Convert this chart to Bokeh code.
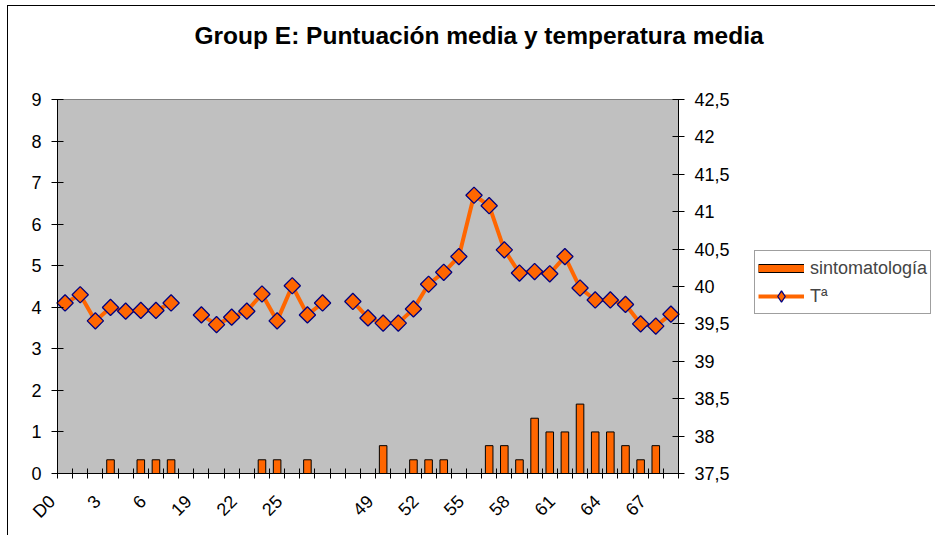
import math
import numpy as np
from bokeh.plotting import figure
from bokeh.models import Range1d, LinearAxis, FixedTicker, Legend, LegendItem, Title, ColumnDataSource
from bokeh.embed import file_html
from bokeh.resources import INLINE

# ---------------- data ----------------
categories = ["D0", "1", "2", "3", "4", "5", "6", "7", "",
              "19", "20", "21", "22", "23", "24", "25", "26", "27", "",
              "47", "48", "49", "50", "51", "52", "53", "54", "55", "56", "57",
              "58", "59", "60", "61", "62", "63", "64", "65", "66", "67", "68"]

sintomatologia = [0, 0, 0, 0.33, 0, 0.33, 0.33, 0.33, 0,
                  0, 0, 0, 0, 0.33, 0.33, 0, 0.33, 0, 0,
                  0, 0, 0.67, 0, 0.33, 0.33, 0.33, 0, 0, 0.67, 0.67,
                  0.33, 1.33, 1, 1, 1.67, 1, 1, 0.67, 0.33, 0.67, 0]

temperatura = [39.78, 39.89, 39.54, 39.72, 39.67, 39.68, 39.68, 39.78, None,
               39.62, 39.49, 39.59, 39.67, 39.90, 39.54, 40.01, 39.62, 39.78, None,
               39.80, 39.58, 39.51, 39.51, 39.70, 40.03, 40.19, 40.40, 41.22, 41.08, 40.49,
               40.18, 40.20, 40.17, 40.40, 39.98, 39.82, 39.82, 39.76, 39.50, 39.47, 39.63]

left_ticks = [0, 1, 2, 3, 4, 5, 6, 7, 8, 9]
right_ticks = [37.5, 38, 38.5, 39, 39.5, 40, 40.5, 41, 41.5, 42, 42.5]
right_tick_labels = ["37,5", "38", "38,5", "39", "39,5", "40", "40,5", "41", "41,5", "42", "42,5"]
label_every = 3

title_text = "Group E: Puntuación media y temperatura media"
series_names = ["sintomatología", "Tª"]

# ---------------- layout constants (pixels on the canvas) ----------------
FONT = "Liberation Sans"
ORANGE = "#FF6600"
NAVY = "#000080"
CANVAS_W, CANVAS_H = 928, 530
AREA_L, AREA_R = 49, 670          # grey plotting area, horizontal
AREA_T, AREA_B = 93, 467          # grey plotting area, vertical
FRAME_T = 80                      # frame covers everything below the title
LABEL_SHIFT = 0.85                # rotated labels sit left of the category centre
NAN1 = [np.nan]                   # legend-swatch proxies carry no visible data

n = len(categories)
xs = list(range(n))
x_lo, x_hi = -0.5, n - 0.5
y_lo, y_hi = left_ticks[0], left_ticks[-1]
t_lo, t_hi = right_ticks[0], right_ticks[-1]

px_x = (AREA_R - AREA_L) / n
px_y = (AREA_B - AREA_T) / (y_hi - y_lo)
px_t = (AREA_B - AREA_T) / (t_hi - t_lo)

temp_arr = np.array([np.nan if v is None else v for v in temperatura], dtype=float)
src = ColumnDataSource(data=dict(x=xs, score=sintomatologia, temp=temp_arr))

# the frame spans the whole canvas below the title so nothing outside the grey area is clipped
x_range = Range1d(x_lo - AREA_L / px_x, x_lo + (CANVAS_W - AREA_L) / px_x)
y_range = Range1d(y_lo - (CANVAS_H - AREA_B) / px_y, y_hi + (AREA_T - FRAME_T) / px_y)
t_range = Range1d(t_lo - (CANVAS_H - AREA_B) / px_t, t_hi + (AREA_T - FRAME_T) / px_t)

p = figure(width=CANVAS_W, height=CANVAS_H, x_range=x_range, y_range=y_range,
           output_backend="svg", toolbar_location=None,
           min_border_left=0, min_border_right=0,
           min_border_top=FRAME_T, min_border_bottom=0,
           background_fill_color="white", border_fill_color="white",
           outline_line_color=None)
p.styles = {"margin-left": "7px", "margin-top": "5px",
            "border-left": "1px solid black", "border-top": "1px solid black"}
p.xgrid.visible = False
p.ygrid.visible = False
p.extra_y_ranges = {"temp": t_range}

# grey plotting area
p.quad(left=[x_lo], right=[x_hi], bottom=[y_lo], top=[y_hi],
       fill_color="#C0C0C0", line_color="#808080", line_width=1)

bars = p.vbar(x="x", top="score", bottom=0, width=0.5, source=src,
              fill_color=ORANGE, line_color="black", line_width=1)
line_r = p.line("x", "temp", source=src, y_range_name="temp",
                line_color=ORANGE, line_width=4)
mark_r = p.scatter("x", "temp", source=src, y_range_name="temp",
                   marker="square", angle=math.pi / 4, size=11.5,
                   fill_color=ORANGE, line_color=NAVY, line_width=1.3)

# legend swatch proxies
sw_out = p.line(x=NAN1, y=NAN1, line_color="black", line_width=9)
sw_in = p.line(x=NAN1, y=NAN1, line_color=ORANGE, line_width=7)
sw_line = p.line(x=NAN1, y=NAN1, line_color=ORANGE, line_width=4)
sw_mark = p.scatter(x=NAN1, y=NAN1, marker="diamond", fill_color=ORANGE,
                    line_color=NAVY, line_width=1.3)

# x axis: line + category tick marks
xa = p.xaxis[0]
xa.fixed_location = y_lo
xa.bounds = (x_lo, x_hi)
xa.ticker = FixedTicker(ticks=[], minor_ticks=[i - 0.5 for i in range(n + 1)])
xa.major_tick_line_color = None
xa.major_label_text_font_size = "0px"
xa.minor_tick_line_color = "black"
xa.minor_tick_in = 5
xa.minor_tick_out = 5
xa.axis_line_color = "black"

# x axis: category labels
label_pos = [i - LABEL_SHIFT for i in xs[::label_every]]
xl = LinearAxis(fixed_location=y_lo, ticker=FixedTicker(ticks=label_pos))
xl.major_label_overrides = {pos: categories[i] for pos, i in zip(label_pos, xs[::label_every])}
xl.axis_line_color = None
xl.major_tick_line_color = None
xl.minor_tick_line_color = None
xl.major_label_orientation = math.pi / 4
xl.major_label_standoff = 19
xl.major_label_text_font = FONT
xl.major_label_text_font_size = "18px"
xl.major_label_text_color = "black"
p.add_layout(xl, "below")

# left axis
ya = p.yaxis[0]
ya.fixed_location = x_lo
ya.bounds = (y_lo, y_hi)
ya.ticker = FixedTicker(ticks=left_ticks)
ya.major_tick_in = 6
ya.major_tick_out = 6
ya.minor_tick_line_color = None
ya.axis_line_color = "black"
ya.major_label_standoff = 10
ya.major_label_text_font = FONT
ya.major_label_text_font_size = "18px"
ya.major_label_text_color = "black"

# right axis
ra = LinearAxis(y_range_name="temp", ticker=FixedTicker(ticks=right_ticks),
                fixed_location=x_hi, bounds=(t_lo, t_hi))
ra.major_label_overrides = {t: s for t, s in zip(right_ticks, right_tick_labels)}
ra.major_tick_in = 6
ra.major_tick_out = 6
ra.minor_tick_line_color = None
ra.axis_line_color = "black"
ra.major_label_standoff = 10
ra.major_label_text_font = FONT
ra.major_label_text_font_size = "18px"
ra.major_label_text_color = "black"
p.add_layout(ra, "right")

legend = Legend(items=[LegendItem(label=series_names[0], renderers=[sw_out, sw_in]),
                       LegendItem(label=series_names[1], renderers=[sw_line, sw_mark])],
                location=(746, 222), margin=0, padding=3, spacing=0,
                glyph_width=46, glyph_height=28, label_height=28, label_standoff=6,
                label_text_font=FONT, label_text_font_size="18px",
                border_line_color="#404040", border_line_width=1,
                background_fill_color="white", background_fill_alpha=1)
p.add_layout(legend, "center")

# title: spacer nearest the frame, real title above it
p.add_layout(Title(text=" ", text_font_size="1px", standoff=35), "above")
p.add_layout(Title(text=title_text, align="left", offset=186,
                   text_font=FONT, text_font_size="24.5px", text_font_style="bold",
                   text_color="black", standoff=0), "above")

open("out.html", "w").write(file_html(p, INLINE))
